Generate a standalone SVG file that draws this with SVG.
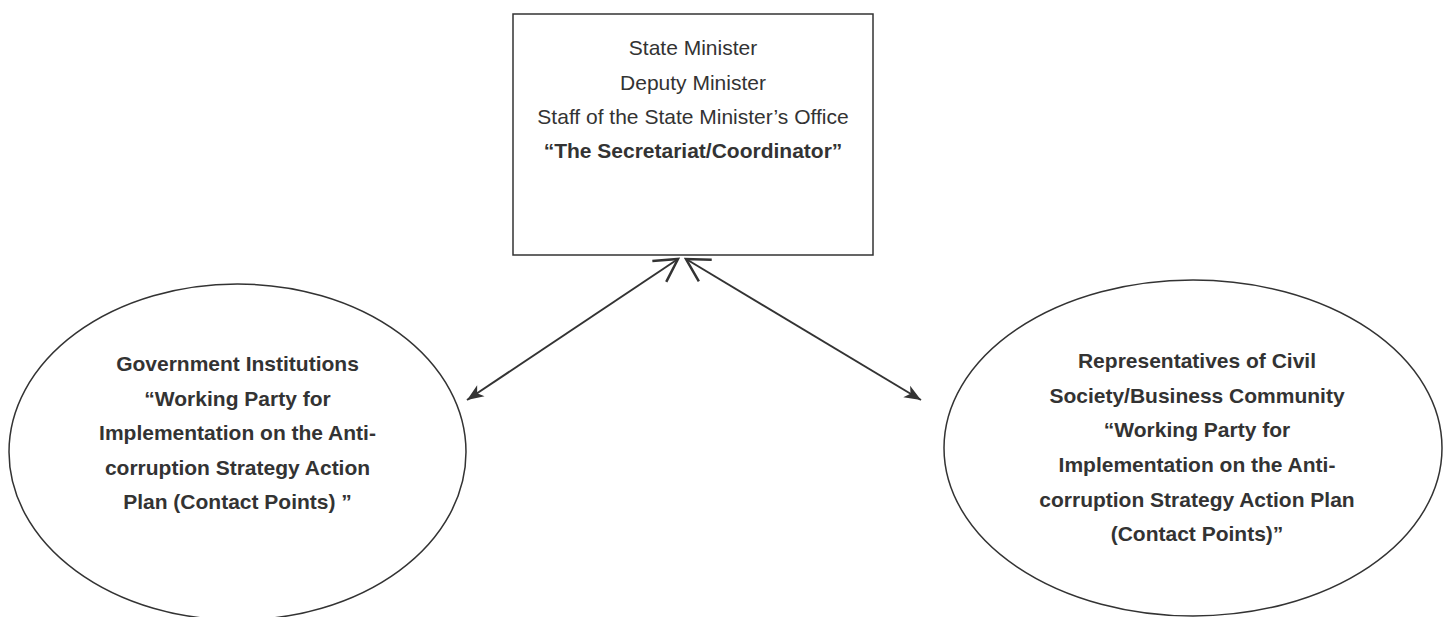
<svg xmlns="http://www.w3.org/2000/svg" width="1443" height="617" viewBox="0 0 1443 617">
<style>
.t{font-family:"Liberation Sans",Arial,sans-serif;font-size:21px;fill:#333;text-anchor:middle}
.b{font-weight:bold}
.shape{fill:#fff;stroke:#333;stroke-width:1.5}
.conn{stroke:#333;stroke-width:2;fill:none}
</style>
<defs>
<marker id="open" markerUnits="userSpaceOnUse" markerWidth="30" markerHeight="30" viewBox="-22 -12 24 24" refX="0" refY="0" orient="auto-start-reverse">
<path d="M-18,-10 L0,0 L-18,10" fill="none" stroke="#333" stroke-width="2"/>
</marker>
<marker id="fill" markerUnits="userSpaceOnUse" markerWidth="20" markerHeight="20" viewBox="-16 -8 18 16" refX="0" refY="0" orient="auto">
<path d="M0,0 L-15,-6 L-11,0 L-15,6 Z" fill="#333"/>
</marker>
</defs>
<rect width="1443" height="617" fill="#fff"/>
<g id="secretariat">
<rect class="shape" x="513" y="14" width="360" height="241"/>
<text class="t" x="693" y="55">State Minister</text>
<text class="t" x="693" y="90">Deputy Minister</text>
<text class="t" x="693" y="124">Staff of the State Minister’s Office</text>
<text class="t b" x="693" y="158">“The Secretariat/Coordinator”</text>
</g>
<g id="government">
<ellipse class="shape" cx="237.5" cy="452" rx="228.5" ry="168"/>
<text class="t b" x="237.5" y="371">Government Institutions</text>
<text class="t b" x="237.5" y="406">“Working Party for</text>
<text class="t b" x="237.5" y="440">Implementation on the Anti-</text>
<text class="t b" x="237.5" y="475">corruption Strategy Action</text>
<text class="t b" x="237.5" y="509">Plan (Contact Points) ”</text>
</g>
<g id="civil">
<ellipse class="shape" cx="1193" cy="448" rx="249" ry="168"/>
<text class="t b" x="1197" y="368">Representatives of Civil</text>
<text class="t b" x="1197" y="403">Society/Business Community</text>
<text class="t b" x="1197" y="437">“Working Party for</text>
<text class="t b" x="1197" y="472">Implementation on the Anti-</text>
<text class="t b" x="1197" y="507">corruption Strategy Action Plan</text>
<text class="t b" x="1197" y="541">(Contact Points)”</text>
</g>
<g id="connectors">
<path class="conn" d="M678,259 L467,400" marker-start="url(#open)" marker-end="url(#fill)"/>
<path class="conn" d="M686,259 L921,400" marker-start="url(#open)" marker-end="url(#fill)"/>
</g>
</svg>
